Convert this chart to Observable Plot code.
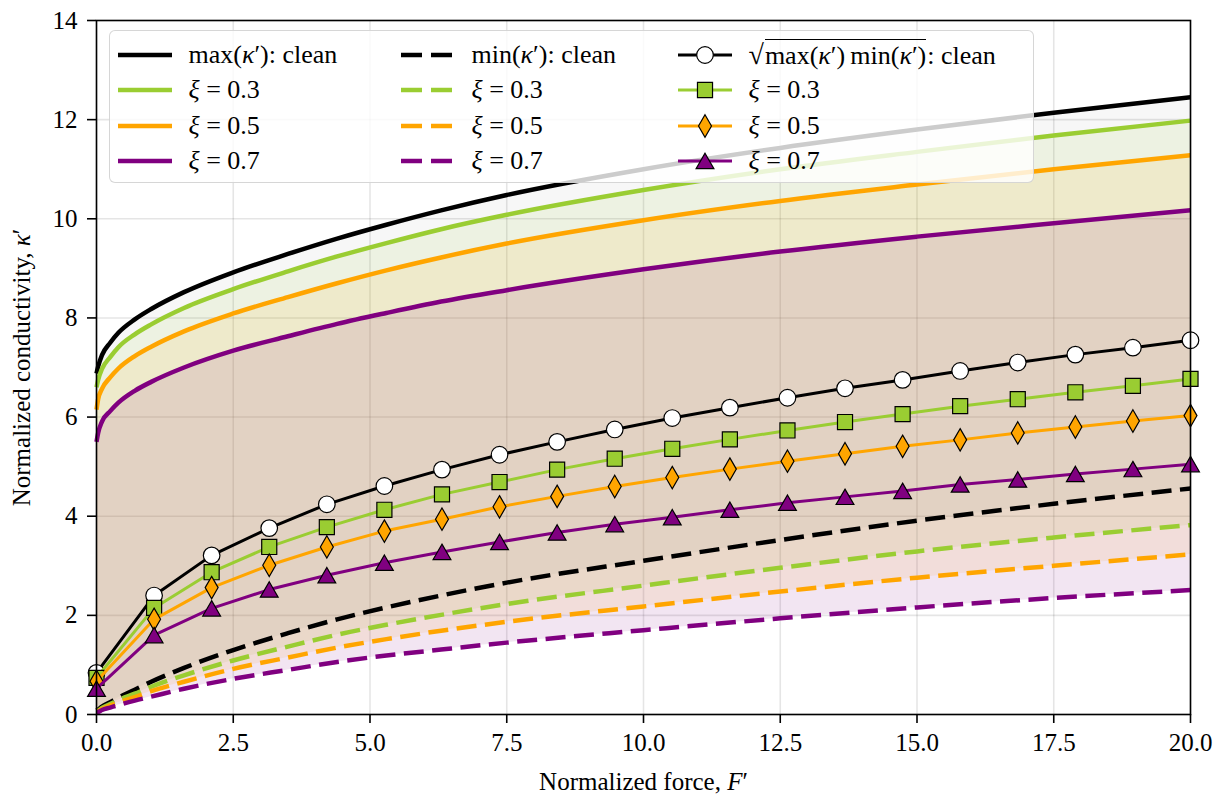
<!DOCTYPE html>
<html>
<head>
<meta charset="utf-8">
<script src="https://cdn.jsdelivr.net/npm/d3@7"></script>
<script src="https://cdn.jsdelivr.net/npm/@observablehq/plot@0.6"></script>
<style>
  body { margin: 0; background: #fff; }
  #wrap { position: relative; width: 1228px; height: 798px;
          font-family: "Liberation Serif", "Times New Roman", Times, Tinos, "DejaVu Serif", "Noto Serif", FreeSerif, serif; }
  #legend { position: absolute; z-index: 2; left: 109px; top: 30px; width: 925px; height: 153px; box-sizing: border-box;
            border: 1.5px solid rgba(204,204,204,0.8); border-radius: 6px; background: rgba(255,255,255,0.8); }
  .item { position: absolute; height: 30px; display: flex; align-items: center; font-size: 26px; white-space: nowrap; color: #000; }
  .item svg { flex: none; margin-right: 17px; }
  .vinc { border-top: 1.6px solid #000; padding-top: 1px; margin-right: 1px; }
  .rad { font-size: 28px; margin-right: 1px; }
</style>
</head>
<body>
<div id="wrap"><div id="legend"></div></div>
<script>
// ---------- data ----------
const xTicks = [0, 2.5, 5, 7.5, 10, 12.5, 15, 17.5, 20];
const yTicks = [0, 2, 4, 6, 8, 10, 12, 14];

const seriesNames = ["clean", "0.3", "0.5", "0.7"];
const seriesColors = ["#000000", "#9acd32", "#ffa500", "#800080"];
const seriesSymbols = ["circle", "square", "diamond", "triangle"];

// normalized force samples for max / min curves
const F = [0, 0.03, 0.1, 0.25, 0.4, 0.7, 1, 1.6, 2.5, 3.5, 4.4, 5.3, 6.3, 7.5, 10, 12.5, 15, 17.5, 20];

const maxClean = [6.88, 7.02, 7.25, 7.50, 7.70, 7.97, 8.18, 8.52, 8.92, 9.29, 9.60, 9.88, 10.17, 10.48, 11.0, 11.43, 11.80, 12.14, 12.45];
const max03    = [6.60, 6.75, 6.97, 7.21, 7.41, 7.67, 7.87, 8.20, 8.58, 8.94, 9.24, 9.51, 9.79, 10.08, 10.58, 11.0, 11.35, 11.68, 11.98];
const max05    = [6.15, 6.36, 6.57, 6.80, 6.98, 7.23, 7.42, 7.73, 8.09, 8.42, 8.70, 8.96, 9.22, 9.50, 9.97, 10.36, 10.69, 11.0, 11.28];
const max07    = [5.50, 5.68, 5.91, 6.12, 6.29, 6.53, 6.71, 7.00, 7.34, 7.63, 7.88, 8.10, 8.33, 8.56, 8.98, 9.34, 9.64, 9.91, 10.17];

const minClean = [0.08, 0.10, 0.16, 0.25, 0.34, 0.50, 0.66, 0.94, 1.30, 1.64, 1.92, 2.16, 2.40, 2.66, 3.10, 3.52, 3.91, 4.25, 4.56];
const min03    = [0.07, 0.08, 0.13, 0.21, 0.29, 0.42, 0.56, 0.79, 1.09, 1.37, 1.61, 1.81, 2.01, 2.23, 2.60, 2.96, 3.29, 3.57, 3.82];
const min05    = [0.06, 0.07, 0.11, 0.18, 0.24, 0.35, 0.47, 0.66, 0.92, 1.15, 1.35, 1.52, 1.69, 1.87, 2.18, 2.48, 2.76, 3.00, 3.23];
const min07    = [0.04, 0.05, 0.09, 0.14, 0.19, 0.28, 0.36, 0.52, 0.72, 0.90, 1.06, 1.19, 1.31, 1.45, 1.70, 1.94, 2.16, 2.35, 2.51];

// geometric mean sqrt(max*min), marker positions
const Fm = [0, 1.053, 2.105, 3.158, 4.211, 5.263, 6.316, 7.368, 8.421, 9.474, 10.526, 11.579, 12.632, 13.684, 14.737, 15.789, 16.842, 17.895, 18.947, 20];
const gmClean = [0.84, 2.40, 3.21, 3.76, 4.24, 4.61, 4.94, 5.24, 5.50, 5.75, 5.98, 6.19, 6.39, 6.58, 6.75, 6.93, 7.10, 7.26, 7.40, 7.55];
const gm03    = [0.74, 2.15, 2.87, 3.38, 3.78, 4.13, 4.44, 4.69, 4.94, 5.16, 5.36, 5.55, 5.73, 5.90, 6.06, 6.22, 6.36, 6.50, 6.63, 6.77];
const gm05    = [0.67, 1.92, 2.56, 3.01, 3.38, 3.70, 3.94, 4.19, 4.40, 4.60, 4.78, 4.95, 5.11, 5.26, 5.41, 5.54, 5.68, 5.80, 5.92, 6.03];
const gm07    = [0.52, 1.60, 2.14, 2.52, 2.81, 3.06, 3.28, 3.48, 3.67, 3.84, 3.98, 4.13, 4.27, 4.39, 4.51, 4.64, 4.74, 4.85, 4.95, 5.05];

const maxSets = [maxClean, max03, max05, max07];
const minSets = [minClean, min03, min05, min07];
const gmSets  = [gmClean, gm03, gm05, gm07];

// ---------- tables ----------
const bands = seriesNames.map((s, k) => F.map((f, i) => ({F: f, max: maxSets[k][i], min: minSets[k][i]})));
const means = seriesNames.map((s, k) => Fm.map((f, i) => ({F: f, v: gmSets[k][i]})));

const FONT = '"Liberation Serif", "Times New Roman", Times, Tinos, "DejaVu Serif", "Noto Serif", FreeSerif, serif';
const fillOpacities = [0.03, 0.1, 0.1, 0.1];
const dotR = {circle: 8.3, square: 8.5, diamond: 6.8, triangle: 6.6};

const marks = [
  Plot.gridX(xTicks, {stroke: "#000", strokeOpacity: 0.1, strokeWidth: 1.6}),
  Plot.gridY(yTicks, {stroke: "#000", strokeOpacity: 0.1, strokeWidth: 1.6})
];
bands.forEach((rows, k) => {
  marks.push(Plot.areaY(rows, {x: "F", y1: "min", y2: "max", fill: seriesColors[k], fillOpacity: fillOpacities[k], curve: "monotone-x"}));
});
bands.forEach((rows, k) => {
  marks.push(Plot.lineY(rows, {x: "F", y: "max", stroke: seriesColors[k], strokeWidth: 4.5, curve: "monotone-x", strokeLinecap: "butt"}));
});
bands.forEach((rows, k) => {
  marks.push(Plot.lineY(rows, {x: "F", y: "min", stroke: seriesColors[k], strokeWidth: 4.5, curve: "monotone-x",
    strokeDasharray: "20,8.5", strokeLinecap: "butt"}));
});
means.forEach((rows, k) => {
  const sym = seriesSymbols[k];
  marks.push(Plot.lineY(rows, {x: "F", y: "v", stroke: seriesColors[k], strokeWidth: 3}));
  marks.push(Plot.dot(rows, {x: "F", y: "v", symbol: sym, r: dotR[sym],
    fill: k === 0 ? "#ffffff" : seriesColors[k], stroke: "#000", strokeWidth: 1.2,
    dy: sym === "triangle" ? 2.5 : 0}));
});
marks.push(Plot.frame({stroke: "#000", strokeWidth: 1.6}));
marks.push(Plot.axisX({ticks: xTicks, tickFormat: d3.format(".1f"), tickSize: 9, tickPadding: 10, strokeWidth: 1.6,
  fontSize: 25, label: "Normalized force, F′", labelAnchor: "center", labelArrow: "none", labelOffset: 75}));
marks.push(Plot.axisY({ticks: yTicks, tickFormat: d3.format("d"), tickSize: 9, tickPadding: 10, strokeWidth: 1.6,
  fontSize: 25, label: "Normalized conductivity, κ′", labelAnchor: "center", labelArrow: "none", labelOffset: 84}));

const chart = Plot.plot({
  width: 1228, height: 798,
  marginLeft: 96, marginRight: 38, marginTop: 20, marginBottom: 84,
  x: {domain: [0, 20]},
  y: {domain: [0, 14]},
  style: {fontFamily: FONT, fontSize: "25px", background: "#fff", color: "#000"},
  marks
});
chart.setAttribute("font-family", FONT);
document.getElementById("wrap").prepend(chart);

// italic math symbols in axis labels
chart.querySelectorAll("text").forEach(t => {
  if (t.textContent === "Normalized force, F′") {
    t.innerHTML = 'Normalized force, <tspan font-style="italic">F</tspan>′';
  } else if (t.textContent === "Normalized conductivity, κ′") {
    t.innerHTML = 'Normalized conductivity, <tspan font-style="italic">κ</tspan>′';
  }
});

// ---------- legend ----------
const legendCols = [
  {kind: "solid", x: 7.5},
  {kind: "dash", x: 290.5},
  {kind: "marker", x: 567.5}
];
const rowY = [23.5, 59, 94.5, 130];
const legendText = [
  ['max(<i>κ</i>′): clean', 'min(<i>κ</i>′): clean',
   '<span class="rad">√</span><span class="vinc">max(<i>κ</i>′)&#8201;min(<i>κ</i>′)</span>: clean'],
];
seriesNames.slice(1).forEach(s => legendText.push(['<i>ξ</i> = ' + s, '<i>ξ</i> = ' + s, '<i>ξ</i> = ' + s]));

const symbolTypes = {circle: d3.symbolCircle, square: d3.symbolSquare, diamond: d3.symbolDiamond, triangle: d3.symbolTriangle};
function swatch(kind, k) {
  const c = seriesColors[k];
  if (kind === "solid") return `<svg width="54" height="30"><line x1="0" x2="54" y1="15" y2="15" stroke="${c}" stroke-width="4.5"/></svg>`;
  if (kind === "dash") return `<svg width="54" height="30"><line x1="0" x2="51" y1="15" y2="15" stroke="${c}" stroke-width="4.5" stroke-dasharray="21,9"/></svg>`;
  const sym = seriesSymbols[k];
  const r = dotR[sym];
  const d = d3.symbol(symbolTypes[sym], r * r * Math.PI)();
  const dy = sym === "triangle" ? 2.5 : 0;
  const fill = k === 0 ? "#fff" : c;
  return `<svg width="54" height="30" style="overflow:visible"><line x1="0" x2="54" y1="15" y2="15" stroke="${c}" stroke-width="3"/>` +
         `<path d="${d}" transform="translate(27,${15 + dy})" fill="${fill}" stroke="#000" stroke-width="1.2"/></svg>`;
}
const legend = document.getElementById("legend");
legendText.forEach((row, k) => {
  row.forEach((txt, j) => {
    const div = document.createElement("div");
    div.className = "item";
    div.style.left = legendCols[j].x + "px";
    div.style.top = (rowY[k] - 15) + "px";
    div.innerHTML = swatch(legendCols[j].kind, k) + `<span>${txt}</span>`;
    legend.appendChild(div);
  });
});
</script>
</body>
</html>
